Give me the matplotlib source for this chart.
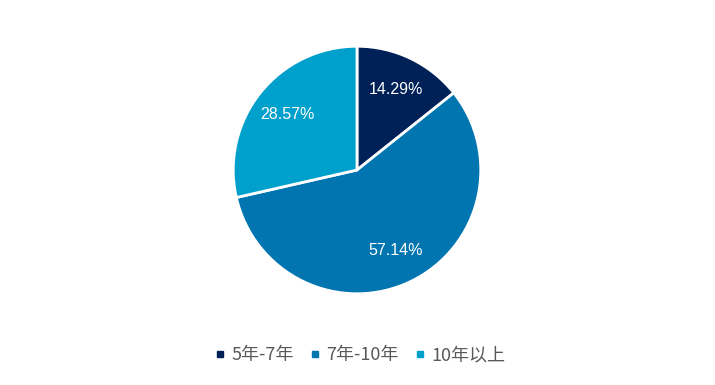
import matplotlib
matplotlib.use("Agg")
import matplotlib.pyplot as plt
from matplotlib.lines import Line2D

plt.rcParams['font.family'] = ['Noto Sans CJK SC', 'DejaVu Sans']

labels = ['5年-7年', '7年-10年', '10年以上']
values = [14.29, 57.14, 28.57]
colors = ['#002157', '#0075B0', '#00A0CC']

fig = plt.figure(figsize=(7.15, 3.85), dpi=100)
ax = fig.add_axes([232 / 715, 90 / 385, 250 / 715, 250 / 385])

wedges, texts, autotexts = ax.pie(
    values, colors=colors, startangle=90, counterclock=False,
    autopct='%.2f%%', pctdistance=0.72, radius=1,
    wedgeprops=dict(edgecolor='white', linewidth=2),
    textprops=dict(color='white', fontsize=11.5, family=['Liberation Sans', 'DejaVu Sans']))
ax.set_xlim(-1.01, 1.01)
ax.set_ylim(-1.01, 1.01)
ax.set_aspect('equal')

handles = [Line2D([0], [0], marker='s', linestyle='', markersize=5,
                  markerfacecolor=c, markeredgecolor=c) for c in colors]
fig.legend(handles, labels, loc='center', bbox_to_anchor=(360 / 715, 1 - 355 / 385),
           ncol=3, frameon=False, fontsize=13, handlelength=0.6, handletextpad=0.3,
           columnspacing=0.9, labelcolor='#595959')

fig.savefig('out.png', dpi=100)
